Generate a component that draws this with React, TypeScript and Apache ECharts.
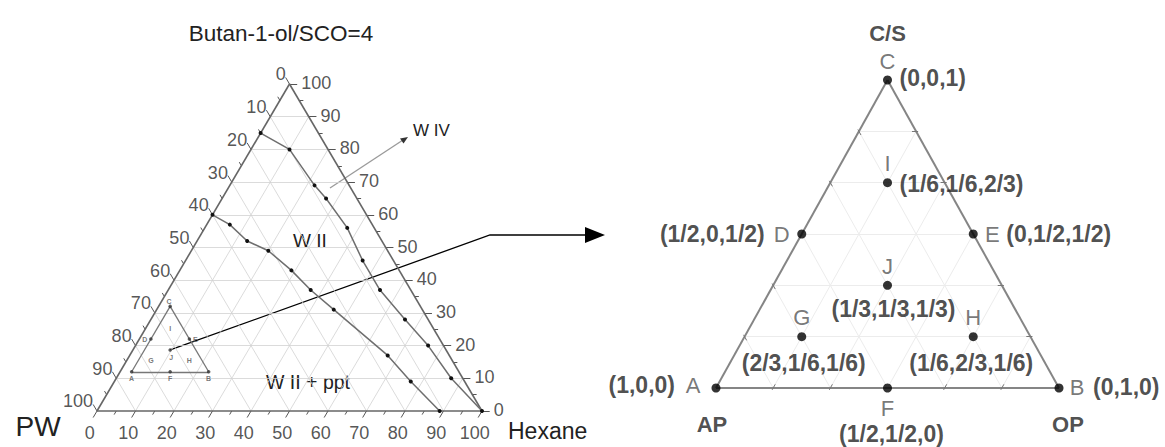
import React, { useEffect, useRef } from "react";
import * as echarts from "echarts";

const FONT = "'Liberation Sans', Arial, Helvetica, sans-serif";

// ---------- Left diagram: Butan-1-ol/SCO = 4, wt% as [PW, Hexane, Butan-1-ol/SCO]
const majorTicks = [0, 10, 20, 30, 40, 50, 60, 70, 80, 90, 100];
const minorTicks = [5, 15, 25, 35, 45, 55, 65, 75, 85, 95];
const gridSteps = [10, 20, 30, 40, 50, 60, 70, 80, 90];

// boundary between the W IV region and W II
const upperBoundary = [
  [15, 0, 85], [10, 10, 80], [9, 22, 69], [8, 27, 65], [7, 37, 56], [8, 46, 46],
  [8, 55, 37], [6, 66, 28], [4, 76, 20], [3, 87, 10], [0, 100, 0],
];
// boundary between W II and W II + ppt
const lowerBoundary = [
  [40, 0, 60], [37, 6, 57], [35, 13, 52], [31, 20, 49], [28, 29, 43], [26, 37, 37],
  [23, 46, 31], [16, 67, 17], [14, 77, 9], [11, 89, 0],
];
// corners A, B, C of the experimental sub-triangle
const insetCorners = [[85, 3, 12], [65, 23, 12], [65, 3, 32]];

// ---------- Right diagram: design points as fractions [AP, OP, C/S]
const pointNames = ["A", "B", "C", "D", "E", "F", "G", "H", "I", "J"];
const pointFractions = [
  ["1", "0", "0"], ["0", "1", "0"], ["0", "0", "1"], ["1/2", "0", "1/2"],
  ["0", "1/2", "1/2"], ["1/2", "1/2", "0"], ["2/3", "1/6", "1/6"],
  ["1/6", "2/3", "1/6"], ["1/6", "1/6", "2/3"], ["1/3", "1/3", "1/3"],
];
const cornerTitles = ["AP", "OP", "C/S"];
const sixths = [1, 2, 3, 4, 5];

// ---------- helpers
const frac = (s: string) => {
  const [n, d] = s.split("/");
  return d ? Number(n) / Number(d) : Number(n);
};
const leftXY = (c: number[]) => [c[1] + c[2] / 2, c[2]];
const rightXY = (c: number[]) => [c[1] + c[2] / 2, c[2]];
const insetComp = (w: number[]) =>
  [0, 1, 2].map((i) => w[0] * insetCorners[0][i] + w[1] * insetCorners[1][i] + w[2] * insetCorners[2][i]);
const insetXY = (w: number[]) => leftXY(insetComp(w));
const add = (p: number[], d: number[], k: number) => p.map((v, i) => v + d[i] * k);
const pointW = (name: string) => pointFractions[pointNames.indexOf(name)].map(frac);

// label placement (px) for the right diagram
const letterOffset: Record<string, number[]> = {
  A: [-23, -3], B: [18, -1], C: [0, -19], D: [-20, 0], E: [19, 0],
  F: [0, 20], G: [0, -19], H: [0, -19], I: [0, -19], J: [0, -19],
};
const coordPlace: Record<string, { align: string; offset: number[] }> = {
  A: { align: "right", offset: [-41, -3] },
  B: { align: "left", offset: [34, -1] },
  C: { align: "left", offset: [12, -2] },
  D: { align: "right", offset: [-37, 0] },
  E: { align: "left", offset: [33, 0] },
  F: { align: "center", offset: [4, 46] },
  G: { align: "center", offset: [2, 26] },
  H: { align: "center", offset: [-2, 26] },
  I: { align: "left", offset: [12, 1] },
  J: { align: "center", offset: [6, 24] },
};
const titleOffset = [[-4, 36], [9, 36], [0, -47]];
// inset letters
const insetLetterOffset: Record<string, number[]> = {
  A: [0, 7], B: [0, 7], C: [-1, -5], D: [-6, 0], E: [6, 0],
  F: [0, 7], G: [0, 0], H: [0, 0], I: [0, 0], J: [1, 8],
};
const insetDotted = ["A", "B", "C", "D", "E", "F", "J"];

function buildOption() {
  // left grid
  const leftGrid: any[] = [];
  gridSteps.forEach((k) => {
    leftGrid.push({ coords: [leftXY([100 - k, 0, k]), leftXY([0, 100 - k, k])] });
    leftGrid.push({ coords: [leftXY([k, 0, 100 - k]), leftXY([k, 100 - k, 0])] });
    leftGrid.push({ coords: [leftXY([100 - k, k, 0]), leftXY([0, k, 100 - k])] });
  });
  const leftSides = [
    { coords: [leftXY([100, 0, 0]), leftXY([0, 100, 0])] },
    { coords: [leftXY([0, 100, 0]), leftXY([0, 0, 100])] },
    { coords: [leftXY([0, 0, 100]), leftXY([100, 0, 0])] },
  ];
  const axes = [
    { base: (v: number) => [v, 0, 100 - v], dir: [0, -1, 1] }, // PW
    { base: (v: number) => [100 - v, v, 0], dir: [1, 0, -1] }, // Hexane
    { base: (v: number) => [0, 100 - v, v], dir: [-1, 1, 0] }, // Butan-1-ol/SCO
  ];
  const ticks: any[] = [];
  axes.forEach((ax) => {
    majorTicks.forEach((v) => ticks.push({ coords: [leftXY(ax.base(v)), leftXY(add(ax.base(v), ax.dir, 2))] }));
    minorTicks.forEach((v) => ticks.push({ coords: [leftXY(ax.base(v)), leftXY(add(ax.base(v), ax.dir, 1.1))] }));
  });
  const tickLabelData = (ax: any) =>
    majorTicks.map((v) => ({ name: String(v), value: leftXY(add(ax.base(v), ax.dir, 2)) }));
  const tickLabelSeries = (ax: any, align: string, offset: number[]) => ({
    type: "scatter",
    xAxisIndex: 0,
    yAxisIndex: 0,
    symbolSize: 1,
    itemStyle: { color: "transparent" },
    silent: true,
    data: tickLabelData(ax),
    label: {
      show: true, position: "inside", formatter: "{b}", align, verticalAlign: "middle",
      offset, fontSize: 18, color: "#2a2a2a", fontFamily: FONT,
    },
  });

  const insetSides = [
    { coords: [leftXY(insetCorners[0]), leftXY(insetCorners[1])] },
    { coords: [leftXY(insetCorners[1]), leftXY(insetCorners[2])] },
    { coords: [leftXY(insetCorners[2]), leftXY(insetCorners[0])] },
  ];

  // right grid
  const rightGrid: any[] = [];
  sixths.forEach((i) => {
    const k = i / 6;
    rightGrid.push({ coords: [rightXY([1 - k, 0, k]), rightXY([0, 1 - k, k])] });
    rightGrid.push({ coords: [rightXY([k, 0, 1 - k]), rightXY([k, 1 - k, 0])] });
    rightGrid.push({ coords: [rightXY([1 - k, k, 0]), rightXY([0, k, 1 - k])] });
  });
  const rightSides = [
    { coords: [rightXY([1, 0, 0]), rightXY([0, 1, 0])] },
    { coords: [rightXY([0, 1, 0]), rightXY([0, 0, 1])] },
    { coords: [rightXY([0, 0, 1]), rightXY([1, 0, 0])] },
  ];
  const rightAxes = [
    { base: (k: number) => [k, 0, 1 - k], dir: [0, 1, -1] },
    { base: (k: number) => [1 - k, k, 0], dir: [-1, 0, 1] },
    { base: (k: number) => [0, 1 - k, k], dir: [1, -1, 0] },
  ];
  const rightTicks: any[] = [];
  rightAxes.forEach((ax) =>
    [1, 2, 4, 5].forEach((i) => {
      const p = ax.base(i / 6);
      rightTicks.push({ coords: [rightXY(add(p, ax.dir, -0.006)), rightXY(add(p, ax.dir, 0.012))] });
    })
  );

  const pointData = pointNames.map((n, i) => ({
    name: n,
    value: rightXY(pointFractions[i].map(frac)),
    label: { offset: letterOffset[n] },
  }));
  const coordData = pointNames.map((n, i) => ({
    name: "(" + pointFractions[i].join(",") + ")",
    value: rightXY(pointFractions[i].map(frac)),
    label: { align: coordPlace[n].align, offset: coordPlace[n].offset },
  }));
  const titleData = cornerTitles.map((t, i) => {
    const w = [0, 0, 0];
    w[i] = 1;
    return { name: t, value: rightXY(w), label: { offset: titleOffset[i] } };
  });
  const insetData = pointNames.map((n, i) => ({
    name: n,
    value: insetXY(pointFractions[i].map(frac)),
    symbolSize: insetDotted.includes(n) ? 3.5 : 0,
    label: { offset: insetLetterOffset[n] },
  }));

  const linesBase = (xi: number, data: any[], color: string, width: number) => ({
    type: "lines",
    coordinateSystem: "cartesian2d",
    xAxisIndex: xi,
    yAxisIndex: xi,
    silent: true,
    clip: false,
    data,
    lineStyle: { color, width, opacity: 1, curveness: 0 },
  });

  const curve = (data: number[][]) => ({
    type: "line",
    xAxisIndex: 0,
    yAxisIndex: 0,
    silent: true,
    clip: false,
    data: data.map(leftXY),
    symbol: "circle",
    symbolSize: 4,
    showSymbol: true,
    itemStyle: { color: "#111" },
    lineStyle: { color: "#6e6e6e", width: 1.5 },
  });

  return {
    animation: false,
    backgroundColor: "#fff",
    grid: [
      { left: 97 - 38.5, top: 84 - 32.7, width: 385 * 1.2, height: 327 * 1.2 },
      { left: 716 - 34.3, top: 80 - 30.8, width: 343 * 1.2, height: 308 * 1.2 },
    ],
    xAxis: [
      { gridIndex: 0, type: "value", min: -10, max: 110, show: false },
      { gridIndex: 1, type: "value", min: -0.1, max: 1.1, show: false },
    ],
    yAxis: [
      { gridIndex: 0, type: "value", min: -10, max: 110, show: false },
      { gridIndex: 1, type: "value", min: -0.1, max: 1.1, show: false },
    ],
    series: [
      linesBase(0, leftGrid, "#d2d2d2", 0.8),
      linesBase(0, ticks, "#555", 1),
      linesBase(0, leftSides, "#666", 1.6),
      tickLabelSeries(axes[0], "right", [0, -3]),
      tickLabelSeries(axes[1], "center", [-3.5, 15]),
      tickLabelSeries(axes[2], "left", [4, -1]),
      curve(upperBoundary),
      curve(lowerBoundary),
      linesBase(0, insetSides, "#777", 1.3),
      {
        type: "scatter",
        xAxisIndex: 0,
        yAxisIndex: 0,
        silent: true,
        data: insetData,
        itemStyle: { color: "#333" },
        label: {
          show: true, position: "inside", formatter: "{b}", fontSize: 7, fontWeight: "bold",
          color: "#555", fontFamily: FONT,
        },
      },
      linesBase(1, rightGrid, "#ececec", 1),
      linesBase(1, rightSides, "#858585", 2),
      linesBase(1, rightTicks, "#777", 1),
      {
        type: "scatter",
        xAxisIndex: 1,
        yAxisIndex: 1,
        silent: true,
        data: pointData,
        symbolSize: 9,
        itemStyle: { color: "#000" },
        label: {
          show: true, position: "inside", formatter: "{b}", align: "center", verticalAlign: "middle",
          fontSize: 22, color: "#555", fontFamily: FONT,
        },
      },
      {
        type: "scatter",
        xAxisIndex: 1,
        yAxisIndex: 1,
        silent: true,
        data: coordData,
        symbolSize: 1,
        itemStyle: { color: "transparent" },
        label: {
          show: true, position: "inside", formatter: "{b}", verticalAlign: "middle",
          fontSize: 23, fontWeight: "bold", color: "#222", fontFamily: FONT,
        },
      },
      {
        type: "scatter",
        xAxisIndex: 1,
        yAxisIndex: 1,
        silent: true,
        data: titleData,
        symbolSize: 1,
        itemStyle: { color: "transparent" },
        label: {
          show: true, position: "inside", formatter: "{b}", align: "center", verticalAlign: "middle",
          fontSize: 22, fontWeight: "bold", color: "#222", fontFamily: FONT,
        },
      },
    ],
  };
}

const txt = (text: string, x: number, y: number, size: number, align = "center", color = "#222") => ({
  type: "text",
  x,
  y,
  silent: true,
  style: {
    text,
    fontSize: size,
    fontFamily: FONT,
    fill: color,
    align,
    verticalAlign: "middle",
    textAlign: align,
    textVerticalAlign: "middle",
  },
});

export default function App() {
  const ref = useRef<HTMLDivElement>(null);
  useEffect(() => {
    const chart = echarts.init(ref.current!, null, { renderer: "svg" });
    chart.setOption(buildOption() as any);
    const j = chart.convertToPixel({ xAxisIndex: 0, yAxisIndex: 0 }, insetXY(pointW("J"))) as number[];
    chart.setOption({
      graphic: [
        txt("Butan-1-ol/SCO=4", 281, 33, 22.5),
        txt("PW", 38, 426, 28),
        txt("Hexane", 508, 431, 23, "left"),
        txt("W II", 310, 240, 19),
        txt("W II + ppt", 308, 382, 19.5),
        txt("W IV", 413, 130, 17, "left"),
        // pointer to the W IV region
        { type: "line", silent: true, shape: { x1: 330, y1: 188, x2: 403, y2: 140 }, style: { stroke: "#9a9a9a", lineWidth: 1.3 } },
        { type: "polygon", silent: true, shape: { points: [[408, 137], [400, 138.5], [403.5, 143.5]] }, style: { fill: "#333" } },
        // connector from the sub-triangle to the enlarged design
        {
          type: "polyline",
          silent: true,
          shape: { points: [[j[0], j[1]], [490, 235], [587, 235]] },
          style: { stroke: "#000", lineWidth: 1.3, fill: null },
        },
        { type: "polygon", silent: true, shape: { points: [[585, 227], [605, 235], [585, 243]] }, style: { fill: "#000" } },
      ],
    } as any);
    return () => chart.dispose();
  }, []);
  return <div ref={ref} style={{ position: "absolute", left: 0, top: 0, width: 1165, height: 447 }} />;
}
